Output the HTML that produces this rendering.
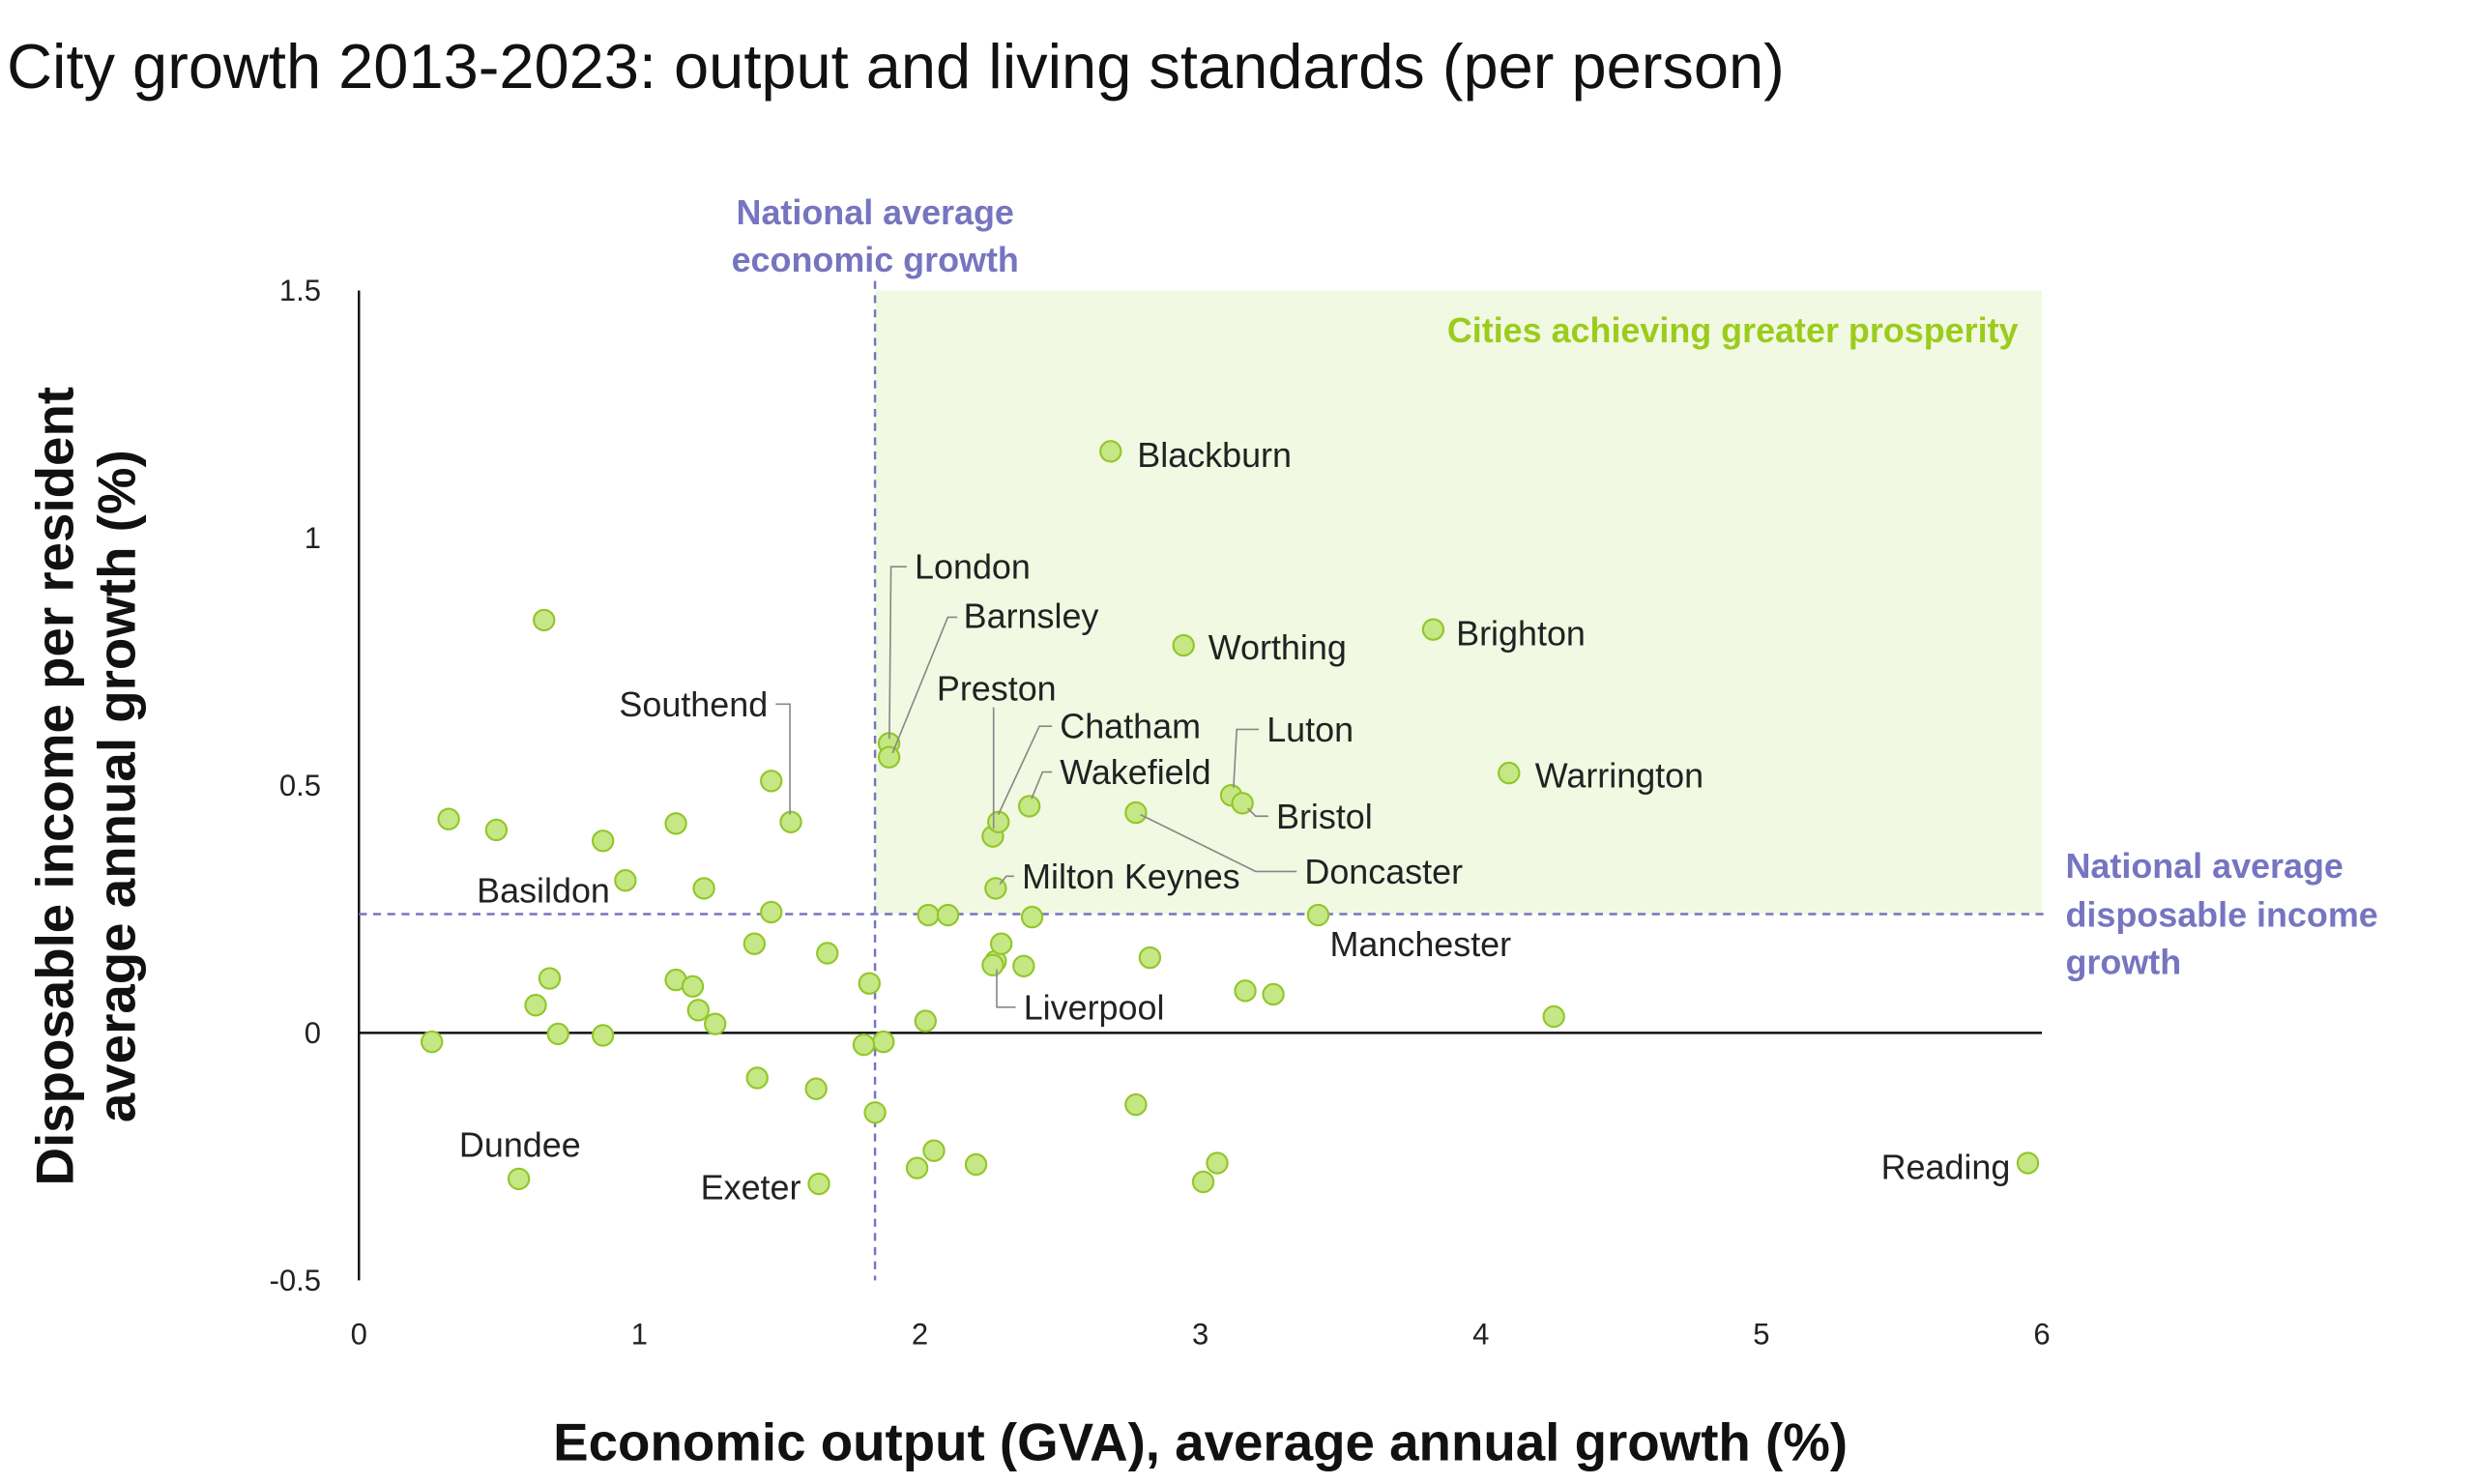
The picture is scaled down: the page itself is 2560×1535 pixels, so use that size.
<!DOCTYPE html>
<html><head><meta charset="utf-8"><style>
html,body{margin:0;padding:0;background:#fff;}
svg{display:block;font-family:"Liberation Sans",sans-serif;}
.lbl{font-size:22px;fill:#222;dominant-baseline:central;}
.ld{stroke:#888;stroke-width:1;fill:none;}
.tk{font-size:19px;fill:#222;dominant-baseline:central;}
</style></head><body>
<svg id="chart" width="2560" height="1535" viewBox="0 0 1567 940" xmlns="http://www.w3.org/2000/svg">
<text x="4" y="42" font-size="39.8" fill="#111" dominant-baseline="central">City growth 2013-2023: output and living standards (per person)</text>
<g id="shade"></g>
<g id="axes"></g>
<g id="refs"></g>
<g id="pts"></g>
<g>
<text class="lbl" x="720" y="288">Blackburn</text>
<text class="lbl" x="765" y="410">Worthing</text>
<text class="lbl" x="922" y="401">Brighton</text>
<text class="lbl" x="972" y="491">Warrington</text>
<text class="lbl" x="1273" y="739" text-anchor="end">Reading</text>
<text class="lbl" x="329" y="725" text-anchor="middle">Dundee</text>
<text class="lbl" x="507" y="752" text-anchor="end">Exeter</text>
<text class="lbl" x="386" y="564" text-anchor="end">Basildon</text>
<text class="lbl" x="842" y="598">Manchester</text>
<text class="lbl" x="579" y="359">London</text><polyline class="ld" points="563,468 564,359 574,359"/>
<text class="lbl" x="610" y="390">Barnsley</text><polyline class="ld" points="565,477 600,391 606,391"/>
<text class="lbl" x="486" y="446" text-anchor="end">Southend</text><polyline class="ld" points="491,446 500,446 500,516"/>
<text class="lbl" x="593" y="436">Preston</text><polyline class="ld" points="629,448 629,525"/>
<text class="lbl" x="671" y="460">Chatham</text><polyline class="ld" points="632,516 658,460 666,460"/>
<text class="lbl" x="671" y="489">Wakefield</text><polyline class="ld" points="653,506 660,489 666,489"/>
<text class="lbl" x="802" y="462">Luton</text><polyline class="ld" points="781,499 783,462 797,462"/>
<text class="lbl" x="808" y="517">Bristol</text><polyline class="ld" points="790,512 795,517 803,517"/>
<text class="lbl" x="826" y="552">Doncaster</text><polyline class="ld" points="722,516 795,552 821,552"/>
<text class="lbl" x="647" y="555">Milton Keynes</text><polyline class="ld" points="633,560 637,555 642,555"/>
<text class="lbl" x="648" y="638">Liverpool</text><polyline class="ld" points="631,614 631,638 643,638"/>
</g>
<text x="1278" y="209" text-anchor="end" font-size="22" font-weight="bold" fill="#9bcc1c" dominant-baseline="central">Cities achieving greater prosperity</text>
<text text-anchor="middle" font-size="22" font-weight="bold" fill="#7575c0"><tspan x="554" y="142">National average</tspan><tspan x="554" y="172">economic growth</tspan></text>
<text font-size="22" font-weight="bold" fill="#7575c0"><tspan x="1308" y="556">National average</tspan><tspan x="1308" y="587">disposable income</tspan><tspan x="1308" y="617">growth</tspan></text>
<text x="760" y="925" text-anchor="middle" font-size="33.5" font-weight="bold" fill="#111">Economic output (GVA), average annual growth (%)</text>
<text text-anchor="middle" font-size="33.5" font-weight="bold" fill="#111" transform="translate(0,498) rotate(-90)"><tspan x="0" y="46">Disposable income per resident</tspan><tspan x="0" y="85">average annual growth (%)</tspan></text>
</svg>
<script>
const xTicks=[0,1,2,3,4,5,6];
const yTicks=[-0.5,0,0.5,1,1.5];
const yTickLabels=["-0.5","0","0.5","1","1.5"];
const natGva=1.84;
const natIncome=0.24;
const gvaGrowth=[2.68,2.94,3.83,4.10,3.11,3.15,2.77,3.42,1.89,1.89,2.26,2.28,2.39,2.27,2.27,5.95,0.57,1.64,1.54,0.95,
0.66,0.32,0.49,0.87,1.13,1.47,1.23,1.47,2.03,2.10,2.40,1.41,1.67,2.29,2.26,2.37,2.82,0.68,1.13,1.19,0.63,1.21,1.27,0.71,0.87,0.26,1.82,2.02,1.87,1.80,3.16,3.26,4.26,1.42,1.63,2.77,1.84,2.05,1.99,2.20,3.06,3.01];
const incomeGrowth=[1.175,0.783,0.815,0.525,0.48,0.464,0.445,0.238,0.585,0.557,0.397,0.426,0.458,0.292,0.145,-0.263,-0.295,-0.305,0.426,0.308,
0.834,0.432,0.41,0.388,0.423,0.509,0.292,0.244,0.238,0.238,0.234,0.18,0.161,0.18,0.137,0.135,0.152,0.11,0.107,0.094,0.056,0.046,0.018,-0.002,-0.005,-0.018,0.1,0.024,-0.018,-0.024,0.085,0.078,0.033,-0.091,-0.113,-0.145,-0.161,-0.238,-0.273,-0.266,-0.263,-0.301];
const X0=227,X1=1293,Y0=811,Y1=184;
const sx=v=>X0+(v-0)/(6-0)*(X1-X0);
const sy=v=>Y0-(v+0.5)/(1.5+0.5)*(Y0-Y1);
const NS="http://www.w3.org/2000/svg";
function mk(tag,attrs,parent){const e=document.createElementNS(NS,tag);for(const k in attrs)e.setAttribute(k,attrs[k]);parent.appendChild(e);return e;}
const shade=document.getElementById('shade');
const r=mk('rect',{x:sx(natGva),y:sy(1.5),width:sx(6)-sx(natGva),height:sy(natIncome)-sy(1.5),fill:'#f1f9e3'},shade);


const axes=document.getElementById('axes');
const ya=mk('line',{x1:sx(0),x2:sx(0),y1:sy(-0.5),y2:sy(1.5),stroke:'#111','stroke-width':1.5},axes);


const xa=mk('line',{x1:sx(0),x2:sx(6),y1:sy(0),y2:sy(0),stroke:'#111','stroke-width':1.5},axes);


xTicks.forEach(t=>{const e=mk('text',{x:sx(t),y:845,'text-anchor':'middle',class:'tk'},axes);e.textContent=t;

});
yTicks.forEach((t,i)=>{const e=mk('text',{x:203,y:sy(t),'text-anchor':'end',class:'tk'},axes);e.textContent=yTickLabels[i];

});
const refs=document.getElementById('refs');
const vl=mk('line',{x1:sx(natGva),x2:sx(natGva),y1:178,y2:sy(-0.5),stroke:'#7575c0','stroke-width':1.5,'stroke-dasharray':'5,4'},refs);


const hl=mk('line',{x1:sx(0),x2:1298,y1:sy(natIncome),y2:sy(natIncome),stroke:'#7575c0','stroke-width':1.5,'stroke-dasharray':'5,4'},refs);


const pts=document.getElementById('pts');
gvaGrowth.forEach((g,i)=>{const c=mk('circle',{cx:sx(g),cy:sy(incomeGrowth[i]),r:6.5,fill:'#c6e785',stroke:'#92c62a','stroke-width':1.3},pts);

});
</script>
</body></html>
